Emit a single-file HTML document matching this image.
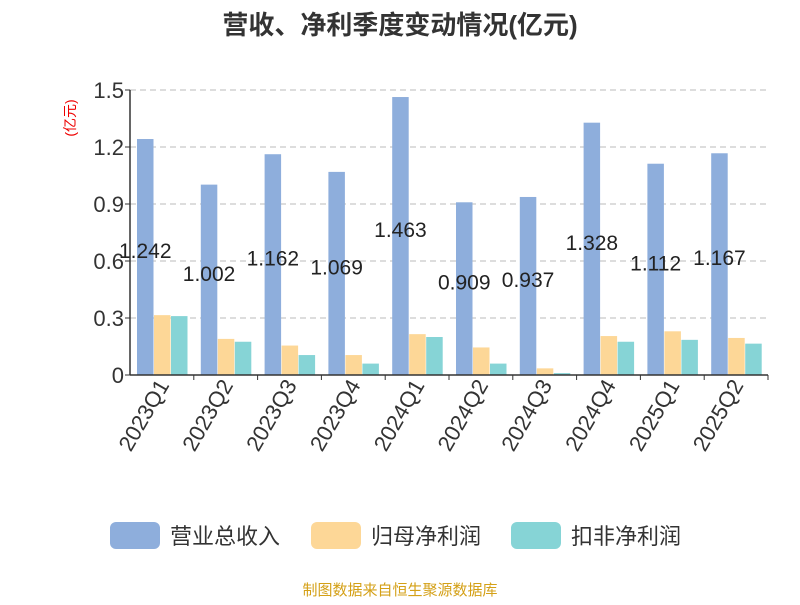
<!DOCTYPE html>
<html><head><meta charset="utf-8"><style>
body{margin:0;background:#fff;font-family:"Liberation Sans","Noto Sans CJK SC",sans-serif;}
</style></head><body>
<svg id="c" width="800" height="600" xmlns="http://www.w3.org/2000/svg" style="font-family:'Liberation Sans','Noto Sans CJK SC',sans-serif">
<text x="400" y="34" text-anchor="middle" font-size="26" font-weight="bold" fill="#333">营收、净利季度变动情况(亿元)</text>
<text transform="translate(75,118) rotate(-90)" text-anchor="middle" font-size="14" fill="#e00">(亿元)</text>
<g id="grid"></g><g id="bars"></g><g id="labels"></g><g id="axes"></g>
<g>
<rect x="110" y="522" width="50" height="27" rx="6" fill="#8eaedc"/>
<text x="170" y="544" font-size="22" fill="#333">营业总收入</text>
<rect x="311" y="522" width="50" height="27" rx="6" fill="#fdd797"/>
<text x="371" y="544" font-size="22" fill="#333">归母净利润</text>
<rect x="511" y="522" width="50" height="27" rx="6" fill="#86d4d6"/>
<text x="571" y="544" font-size="22" fill="#333">扣非净利润</text>
</g>
<text x="400" y="595" text-anchor="middle" font-size="15" fill="#d4a017">制图数据来自恒生聚源数据库</text>
</svg>
<script>
const categories=["2023Q1","2023Q2","2023Q3","2023Q4","2024Q1","2024Q2","2024Q3","2024Q4","2025Q1","2025Q2"];
const revenue=[1.242,1.002,1.162,1.069,1.463,0.909,0.937,1.328,1.112,1.167];
const netProfit=[0.315,0.19,0.155,0.105,0.215,0.145,0.035,0.205,0.23,0.195];
const deductedProfit=[0.31,0.175,0.105,0.06,0.2,0.06,0.01,0.175,0.185,0.165];
const yTicks=[0,0.3,0.6,0.9,1.2,1.5];
const yTickLabels=["0","0.3","0.6","0.9","1.2","1.5"];
const NS="http://www.w3.org/2000/svg";
const L=130,R=768,T=90,B=375,yMax=1.5;
const band=(R-L)/categories.length;
const y=v=>B-(v/yMax)*(B-T);
const xb=i=>L+i*band;
function mk(tag,attrs,parent,txt){const e=document.createElementNS(NS,tag);for(const k in attrs)e.setAttribute(k,attrs[k]);if(txt!==undefined)e.textContent=txt;document.getElementById(parent).appendChild(e);return e;}
yTicks.forEach((t,i)=>{
  if(t>0){const g=mk("line",{x1:L,x2:R,y1:y(t),y2:y(t),stroke:"#bbb","stroke-dasharray":"6,4"},"grid");
  
  }
  const tk=mk("line",{x1:L-5,x2:L,y1:y(t),y2:y(t),stroke:"#333"},"axes");
  
  
  const tl=mk("text",{x:L-6,y:y(t)+8,"text-anchor":"end","font-size":"22",fill:"#333"},"axes",yTickLabels[i]);
  
  
});
const bw=16.5,off=7;
const series=[[revenue,"#8eaedc","revenue"],[netProfit,"#fdd797","net-profit"],[deductedProfit,"#86d4d6","deducted-profit"]];
categories.forEach((c,i)=>{
  series.forEach((s,j)=>{
    const v=s[0][i];
    const r=mk("rect",{x:xb(i)+off+j*(bw+0.5),y:y(v),width:bw,height:B-y(v),fill:s[1]},"bars");
    
    
  });
  const lx=xb(i)+off+bw/2;
  const lb=mk("text",{x:lx,y:(y(revenue[i])+B)/2+1,"text-anchor":"middle","font-size":"21",fill:"#222"},"labels",revenue[i].toFixed(3));
  
  
  const tx=xb(i)+band;
  const tk=mk("line",{x1:tx,x2:tx,y1:B,y2:B+5,stroke:"#333"},"axes");
  
  
  const cx=xb(i)+band/2;
  const xl=mk("text",{x:0,y:0,transform:`translate(${cx+8},${B+10}) rotate(-60)`,"text-anchor":"end","font-size":"22",fill:"#333"},"axes",c);
  
  
});
const xa=mk("line",{x1:L,x2:R,y1:B,y2:B,stroke:"#333","stroke-width":"1.5"},"axes");


const ya=mk("line",{x1:L,x2:L,y1:T,y2:B,stroke:"#333","stroke-width":"1.5"},"axes");


</script>
</body></html>
